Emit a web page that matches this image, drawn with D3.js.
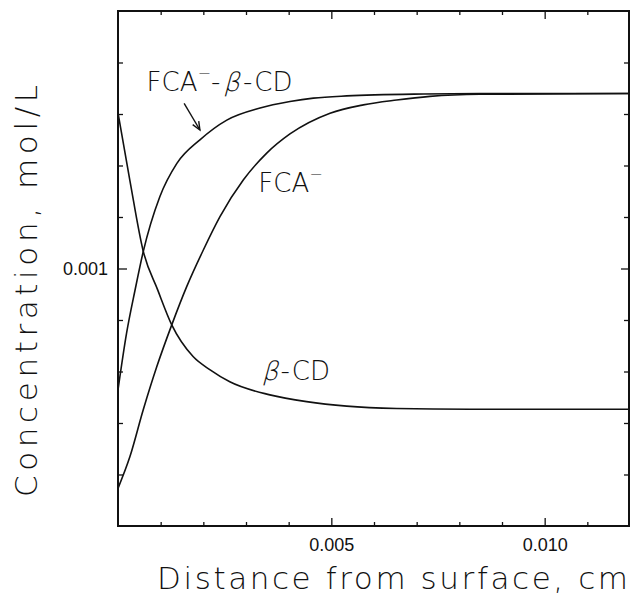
<!DOCTYPE html>
<html>
<head>
<meta charset="utf-8">
<script src="https://cdn.jsdelivr.net/npm/d3@7"></script>
<style>
    body { margin: 0; background: #fff; }
    svg { display: block; }
    .title { font-family: "DejaVu Sans", sans-serif; font-weight: 200; fill: #111; }
    .tick text { font-family: "Liberation Sans", Arial, sans-serif; font-size: 18px; fill: #111; }
</style>
</head>
<body>
<svg></svg>
<script>
let W = 630;
let H = 603;

// distance from surface (cm) and concentration (mol/L)
let xBCD = [0, 0.00028, 0.00059, 0.00093, 0.00126, 0.00176, 0.00216, 0.00262, 0.00356, 0.00442, 0.00536, 0.00653, 0.00825, 0.012];
let yBCD = [0.00402, 0.00219, 0.00117, 0.000826, 0.000604, 0.000455, 0.000404, 0.000363, 0.000323, 0.000304, 0.000292, 0.000286, 0.000284, 0.000284];

let xComplex = [0, 0.0002, 0.0004, 0.00059, 0.00098, 0.00138, 0.00192, 0.00255, 0.00333, 0.00403, 0.00458, 0.00536, 0.00716, 0.00848, 0.012];
let yComplex = [0.000338, 0.00056, 0.000825, 0.00116, 0.0019, 0.00256, 0.00316, 0.00377, 0.0042, 0.00445, 0.00459, 0.00468, 0.00476, 0.00478, 0.00478];

let xFCA = [0, 0.00028, 0.00059, 0.00091, 0.00126, 0.00161, 0.002, 0.00239, 0.00294, 0.00348, 0.00403, 0.00497, 0.00575, 0.00653, 0.00731, 0.00848, 0.012];
let yFCA = [0.00014, 0.000186, 0.000282, 0.000416, 0.000604, 0.00085, 0.00118, 0.00159, 0.00221, 0.0028, 0.00333, 0.00401, 0.00432, 0.00451, 0.00466, 0.00475, 0.00478];

let xMajorTicks = [0.005, 0.010];
let xMajorLabels = ["0.005", "0.010"];
let xMinorTicks = [0.001, 0.002, 0.003, 0.004, 0.006, 0.007, 0.008, 0.009, 0.011];
let yMajorTicks = [0.001];
let yMajorLabels = ["0.001"];
let yMinorTicks = [0.0001585, 0.0002512, 0.0003981, 0.000631, 0.001585, 0.002512, 0.003981, 0.00631];

let mLeft = 118, mRight = 629, mTop = 11, mBottom = 526;

let svg = d3.select("svg").attr("width", W).attr("height", H);

let x = d3.scaleLinear().domain([0, 0.012]).range([mLeft, 630]);
let y = d3.scaleLog().domain([0.0001, 0.01]).range([mBottom, mTop]);

// frame
svg.append("rect")
    .attr("x", mLeft).attr("y", mTop)
    .attr("width", mRight - mLeft).attr("height", mBottom - mTop)
    .attr("fill", "none").attr("stroke", "#111").attr("stroke-width", 2);

function cleanAxis(g) {
    g.select(".domain").remove();
    g.selectAll(".tick line").attr("stroke", "#111").attr("stroke-width", 1.3);
}

// bottom
svg.append("g").attr("transform", "translate(0," + mBottom + ")")
    .call(d3.axisBottom(x).tickValues(xMinorTicks).tickSize(-4).tickFormat(""))
    .call(cleanAxis);
svg.append("g").attr("transform", "translate(0," + mBottom + ")")
    .call(d3.axisBottom(x).tickValues(xMajorTicks).tickSizeInner(-8).tickPadding(12)
        .tickFormat((d, i) => xMajorLabels[i]))
    .call(cleanAxis);

// top
svg.append("g").attr("transform", "translate(0," + mTop + ")")
    .call(d3.axisTop(x).tickValues(xMinorTicks).tickSize(-4).tickFormat(""))
    .call(cleanAxis);
svg.append("g").attr("transform", "translate(0," + mTop + ")")
    .call(d3.axisTop(x).tickValues(xMajorTicks).tickSize(-8).tickFormat(""))
    .call(cleanAxis);

// left
svg.append("g").attr("transform", "translate(" + mLeft + ",0)")
    .call(d3.axisLeft(y).tickValues(yMinorTicks).tickSize(-5).tickFormat(""))
    .call(cleanAxis);
svg.append("g").attr("transform", "translate(" + mLeft + ",0)")
    .call(d3.axisLeft(y).tickValues(yMajorTicks).tickSizeInner(-9).tickPadding(10)
        .tickFormat((d, i) => yMajorLabels[i]))
    .call(cleanAxis);

// right
svg.append("g").attr("transform", "translate(" + mRight + ",0)")
    .call(d3.axisRight(y).tickValues(yMinorTicks).tickSize(-5).tickFormat(""))
    .call(cleanAxis);
svg.append("g").attr("transform", "translate(" + mRight + ",0)")
    .call(d3.axisRight(y).tickValues(yMajorTicks).tickSize(-8).tickFormat(""))
    .call(cleanAxis);

// curves
let line = d3.line()
    .x(d => x(d[0]))
    .y(d => y(d[1]))
    .curve(d3.curveMonotoneX);

[[xBCD, yBCD], [xComplex, yComplex], [xFCA, yFCA]].forEach(function (s) {
    svg.append("path")
        .datum(d3.zip(s[0], s[1]))
        .attr("d", line)
        .attr("fill", "none")
        .attr("stroke", "#111")
        .attr("stroke-width", 1.6);
});

// labels built from pieces so beta can be slanted
function label(x0, y0, pieces) {
    let cx = x0;
    pieces.forEach(function (p) {
        let t = svg.append("text").attr("class", "title")
            .attr("font-size", p.size || 26)
            .text(p.t);
        cx += p.gap || 0;
        let yy = y0 + (p.dy || 0);
        if (p.skew) {
            t.attr("transform", "translate(" + cx + "," + yy + ") skewX(-15)");
        } else {
            t.attr("x", cx).attr("y", yy);
        }
        cx += t.node().getComputedTextLength();
    });
}

label(x(0.00067), y(0.0049), [
    {t: "FCA"},
    {t: "\u2212", size: 16, dy: -12},
    {t: "-"},
    {t: "\u03B2", skew: true, gap: 3},
    {t: "-", gap: 3},
    {t: "CD", gap: 2}
]);

label(x(0.00329), y(0.00199), [
    {t: "FCA"},
    {t: "\u2212", size: 16, dy: -12}
]);

label(x(0.00337), y(0.000369), [
    {t: "\u03B2", skew: true},
    {t: "-", gap: 2},
    {t: "CD", gap: 2}
]);

// arrow to the complex curve
let ax1 = x(0.00155), ay1 = y(0.00438), ax2 = x(0.00192), ay2 = y(0.00345);
svg.append("line")
    .attr("x1", ax1).attr("y1", ay1).attr("x2", ax2).attr("y2", ay2)
    .attr("stroke", "#111").attr("stroke-width", 1.4);
let ang = Math.atan2(ay2 - ay1, ax2 - ax1);
let hl = 9;
svg.append("path")
    .attr("d", "M" + (ax2 - hl * Math.cos(ang - 0.4)) + "," + (ay2 - hl * Math.sin(ang - 0.4)) +
        "L" + ax2 + "," + ay2 +
        "L" + (ax2 - hl * Math.cos(ang + 0.4)) + "," + (ay2 - hl * Math.sin(ang + 0.4)))
    .attr("fill", "none").attr("stroke", "#111").attr("stroke-width", 1.4);

// axis titles
svg.append("text").attr("class", "title")
    .attr("x", 157).attr("y", 589)
    .attr("font-size", 31)
    .attr("textLength", 471).attr("lengthAdjust", "spacing")
    .text("Distance from surface, cm");

svg.append("text").attr("class", "title")
    .attr("transform", "translate(37,497) rotate(-90)")
    .attr("font-size", 31)
    .attr("textLength", 412).attr("lengthAdjust", "spacing")
    .text("Concentration, mol/L");
</script>
</body>
</html>
